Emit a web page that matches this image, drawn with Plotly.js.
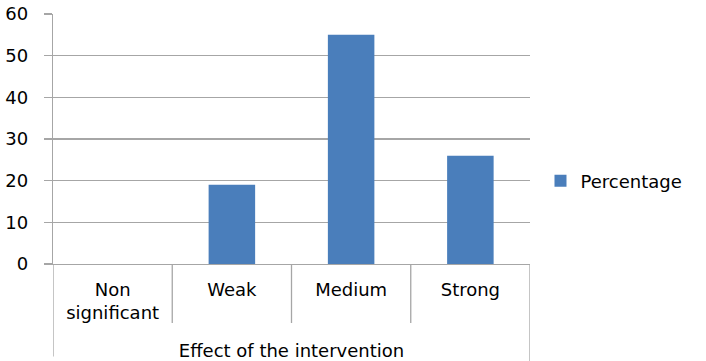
<!DOCTYPE html>
<html>
<head>
<meta charset="utf-8">
<script src="https://cdn.plot.ly/plotly-3.0.1.min.js"></script>
<style>html,body{margin:0;padding:0;background:#fff;}#chart{width:706px;height:361px;}</style>
</head>
<body>
<div id="chart"></div>
<script>
const categories = ["Non<br>significant", "Weak", "Medium", "Strong"];
const percentage = [0, 19, 55, 26];
const seriesName = "Percentage";
const yTicks = [0, 10, 20, 30, 40, 50, 60];
const xTitle = "Effect of the intervention";

const FONT = "DejaVu Sans, sans-serif";
const GRID = "#a6a6a6";

const idx = categories.map((c, i) => i);

const shapes = [];
for (let i = 0; i < categories.length - 1; i++) {
  shapes.push({type: "line", xref: "x", yref: "paper", x0: i + 0.5, x1: i + 0.5, y0: 0, y1: -0.236,
    line: {color: GRID, width: 1.3}});
}
shapes.push({type: "line", xref: "x", yref: "paper", x0: -0.5, x1: -0.5, y0: 0, y1: -0.37, line: {color: GRID, width: 1.3}});
shapes.push({type: "line", xref: "x", yref: "paper", x0: categories.length - 0.5, x1: categories.length - 0.5, y0: 0, y1: -0.39, line: {color: GRID, width: 1.3}});

const data = [{
  type: "bar",
  x: idx,
  y: percentage,
  name: seriesName,
  marker: {color: "#4a7ebb"},
  width: 0.39,
  showlegend: true
}];

const layout = {
  width: 706, height: 361,
  margin: {l: 53, r: 176, t: 14, b: 97},
  paper_bgcolor: "#fff", plot_bgcolor: "#fff",
  font: {family: FONT, size: 18, color: "#000"},
  xaxis: {
    range: [-0.5, categories.length - 0.5],
    tickmode: "array", tickvals: idx, ticktext: categories,
    ticks: "", showgrid: false, zeroline: false,
    showline: true, linecolor: GRID, linewidth: 1.3,
    ticklabelstandoff: 9,
    title: {text: xTitle, standoff: 22, font: {family: FONT, size: 18}},
    fixedrange: true
  },
  yaxis: {
    range: [0, 60],
    tickmode: "array", tickvals: yTicks,
    ticks: "outside", ticklen: 8, tickcolor: GRID, tickwidth: 1.3,
    ticklabelstandoff: 12,
    showgrid: true, gridcolor: GRID, gridwidth: 1.3,
    zeroline: false,
    showline: true, linecolor: GRID, linewidth: 1.3,
    fixedrange: true
  },
  legend: {x: 1.022, xanchor: "left", y: 0.332, yanchor: "middle", font: {family: FONT, size: 18}, bgcolor: "rgba(0,0,0,0)"},
  shapes: shapes
};

Plotly.newPlot("chart", data, layout, {displayModeBar: false, staticPlot: true});
</script>
</body>
</html>
